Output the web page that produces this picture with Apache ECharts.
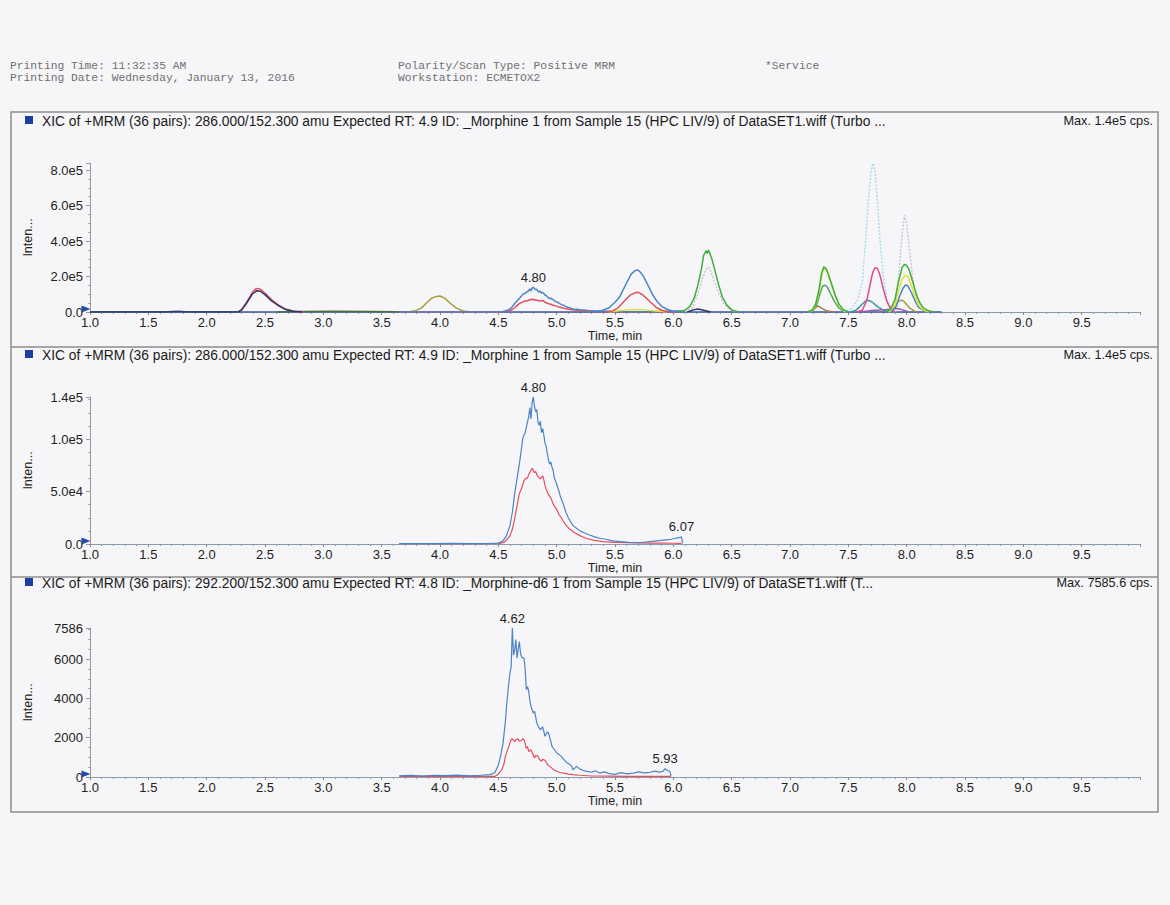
<!DOCTYPE html>
<html>
<head>
<meta charset="utf-8">
<script src="https://cdn.jsdelivr.net/npm/echarts/dist/echarts.min.js"></script>
<style>
  html, body { margin: 0; padding: 0; background: #f6f6f8; }
  #chart { width: 1170px; height: 905px; }
</style>
</head>
<body>
<div id="chart"></div>
<script>
// ---- Panel 1: all 36 MRM pairs overlaid (time in min, intensity in cps) ----
const baselineTrace = [[1.0,0],[1.65,0],[1.7,3000],[1.76,4000],[1.82,2000],[1.9,0],[8.3,0]];
const earlyGreen    = [[2.6,0],[2.8,2500],[3.1,4000],[3.4,3000],[3.6,1000],[3.75,0]];
const peakANavy  = [[1.0,0],[2.27,0],[2.3,12000],[2.34,48000],[2.39,100000],[2.43,120000],[2.46,117000],[2.5,98000],[2.55,66000],[2.61,38000],[2.67,16000],[2.74,4000],[2.82,0]];
const peakARed   = [[2.27,0],[2.3,14000],[2.34,52000],[2.39,108000],[2.42,130000],[2.44,133000],[2.47,124000],[2.51,100000],[2.56,67000],[2.62,37000],[2.68,15000],[2.76,3000],[2.84,0]];
const peakBOlive = [[3.72,0],[3.78,5000],[3.84,22000],[3.89,55000],[3.93,78000],[3.97,88000],[4.0,90000],[4.04,78000],[4.09,48000],[4.14,22000],[4.2,6000],[4.27,0]];
const peakCBlue  = [[5.3,0],[5.38,6000],[5.45,24000],[5.5,55000],[5.54,85000],[5.6,165000],[5.64,215000],[5.67,232000],[5.69,237000],[5.71,230000],[5.74,205000],[5.78,155000],[5.82,100000],[5.86,60000],[5.9,32000],[5.95,14000],[6.0,4000],[6.06,0]];
const peakCRed   = [[5.42,0],[5.48,6000],[5.53,25000],[5.58,62000],[5.63,95000],[5.67,108000],[5.7,111000],[5.73,100000],[5.77,78000],[5.81,52000],[5.85,28000],[5.9,10000],[5.96,0]];
const peakCYellow= [[5.45,0],[5.55,8000],[5.65,14000],[5.75,12000],[5.85,5000],[5.95,0]];
const peakDGreen = [[6.05,0],[6.1,10000],[6.14,30000],[6.18,80000],[6.21,150000],[6.24,240000],[6.26,320000],[6.28,345000],[6.29,330000],[6.3,350000],[6.31,335000],[6.33,300000],[6.36,225000],[6.39,150000],[6.42,85000],[6.46,38000],[6.5,12000],[6.56,0]];
const peakDLilac = [[6.1,0],[6.16,25000],[6.21,100000],[6.25,190000],[6.28,240000],[6.3,255000],[6.32,230000],[6.35,175000],[6.39,105000],[6.43,50000],[6.48,15000],[6.54,0]];
const peakDNavy  = [[6.12,0],[6.17,12000],[6.21,17000],[6.26,10000],[6.32,0]];
const peakEGreen = [[7.15,0],[7.19,12000],[7.22,45000],[7.25,130000],[7.27,215000],[7.29,255000],[7.31,245000],[7.33,210000],[7.36,150000],[7.39,90000],[7.42,42000],[7.46,12000],[7.5,0]];
const peakEYellow= [[7.16,0],[7.2,15000],[7.23,60000],[7.26,160000],[7.28,230000],[7.3,245000],[7.32,225000],[7.35,170000],[7.38,110000],[7.41,55000],[7.45,15000],[7.5,0]];
const peakEGreen2= [[7.16,0],[7.2,10000],[7.23,40000],[7.26,110000],[7.28,145000],[7.3,152000],[7.32,140000],[7.35,100000],[7.38,60000],[7.42,22000],[7.47,0]];
const peakEBrown = [[7.17,0],[7.21,20000],[7.24,35000],[7.27,22000],[7.32,5000],[7.38,0]];
const peakFCyan  = [[7.46,0],[7.53,20000],[7.58,70000],[7.62,170000],[7.65,420000],[7.68,700000],[7.7,820000],[7.715,838000],[7.73,780000],[7.75,620000],[7.77,420000],[7.8,200000],[7.83,70000],[7.87,18000],[7.91,0]];
const peakFPink  = [[7.57,0],[7.62,10000],[7.66,70000],[7.69,165000],[7.71,225000],[7.73,250000],[7.75,245000],[7.77,210000],[7.8,130000],[7.83,60000],[7.86,20000],[7.9,0]];
const peakFTeal  = [[7.52,0],[7.57,12000],[7.62,45000],[7.66,68000],[7.7,58000],[7.75,30000],[7.8,10000],[7.85,0]];
const peakFPurple= [[7.6,0],[7.7,8000],[7.8,12000],[7.9,20000],[7.95,15000],[8.02,0]];
const peakGGreen = [[7.82,0],[7.86,15000],[7.9,70000],[7.93,170000],[7.96,250000],[7.98,268000],[8.0,262000],[8.02,240000],[8.05,175000],[8.08,105000],[8.11,55000],[8.14,25000],[8.18,8000],[8.23,0]];
const peakGYellow= [[7.85,0],[7.9,40000],[7.93,120000],[7.96,185000],[7.99,208000],[8.01,200000],[8.04,150000],[8.07,90000],[8.1,40000],[8.14,12000],[8.19,0]];
const peakGBlue  = [[7.86,0],[7.91,30000],[7.94,90000],[7.97,135000],[7.99,152000],[8.01,148000],[8.04,110000],[8.07,65000],[8.1,28000],[8.15,6000],[8.2,0]];
const peakGGray  = [[7.85,0],[7.9,50000],[7.93,200000],[7.96,430000],[7.98,545000],[8.0,500000],[8.02,380000],[8.05,200000],[8.08,80000],[8.12,20000],[8.17,0]];
const peakGOlive = [[7.84,0],[7.89,25000],[7.93,60000],[7.96,68000],[7.99,50000],[8.03,20000],[8.08,0]];

// ---- Morphine 286.0/152.3 (quantifier, blue) and qualifier (red) ----
const morphineQuant = [[3.65,300],[3.8,500],[3.95,400],[4.1,600],[4.25,400],[4.4,500],[4.5,800],[4.54,3000],[4.57,8000],[4.6,17500],[4.62,30000],[4.64,48000],[4.66,62000],[4.68,76000],[4.7,92000],[4.71,101000],[4.73,106000],[4.74,111000],[4.76,121000],[4.77,130000],[4.78,119000],[4.79,135000],[4.8,140000],[4.81,131000],[4.82,126000],[4.83,128000],[4.84,116000],[4.85,113000],[4.86,117000],[4.87,106000],[4.88,110000],[4.89,104000],[4.9,96000],[4.91,93000],[4.92,86000],[4.93,80000],[4.94,76000],[4.95,78000],[4.96,73000],[4.97,70000],[4.98,63000],[5.0,57000],[5.02,50000],[5.03,46000],[5.05,40000],[5.06,37000],[5.08,30000],[5.1,25000],[5.12,21000],[5.14,17500],[5.17,15000],[5.2,12500],[5.23,11000],[5.27,9000],[5.32,7000],[5.37,5500],[5.42,4500],[5.48,3000],[5.55,2200],[5.62,1500],[5.7,1200],[5.76,1800],[5.82,2500],[5.88,3200],[5.94,4000],[5.98,4500],[6.02,5500],[6.05,6000],[6.07,6800],[6.08,500]];
const morphineQual  = [[3.65,200],[4.0,300],[4.3,200],[4.5,400],[4.55,1500],[4.58,5000],[4.6,8000],[4.62,14000],[4.64,24000],[4.66,36000],[4.68,48000],[4.7,53000],[4.71,57000],[4.72,60000],[4.73,62000],[4.75,63000],[4.76,66000],[4.78,70000],[4.79,72000],[4.8,70000],[4.81,68000],[4.82,69000],[4.83,66000],[4.84,64500],[4.86,62000],[4.87,63500],[4.88,65000],[4.89,61000],[4.9,56000],[4.91,52000],[4.93,47000],[4.95,44000],[4.97,38000],[5.0,33000],[5.02,28000],[5.04,25000],[5.06,21000],[5.08,18000],[5.1,15500],[5.12,13500],[5.15,11000],[5.2,8000],[5.25,5500],[5.32,3500],[5.4,2200],[5.5,1600],[5.6,1300],[5.7,1000],[5.8,900],[5.9,800],[6.0,700],[6.07,600]];

// ---- Morphine-d6 292.2/152.3 (quantifier, blue) and qualifier (red) ----
const d6Quant = [[3.65,60],[3.75,80],[3.85,50],[3.95,90],[4.05,70],[4.15,100],[4.25,60],[4.35,90],[4.43,120],[4.47,220],[4.5,600],[4.52,1100],[4.54,1700],[4.56,2800],[4.57,3600],[4.59,4800],[4.6,5300],[4.61,5600],[4.62,7585.6],[4.63,6200],[4.64,6450],[4.65,7000],[4.66,6050],[4.67,6500],[4.68,6900],[4.69,6300],[4.7,6100],[4.72,6050],[4.73,5500],[4.74,4450],[4.75,4600],[4.76,4380],[4.77,3900],[4.78,3600],[4.8,3250],[4.81,3350],[4.83,2750],[4.85,2500],[4.86,2400],[4.88,2550],[4.9,2070],[4.92,2300],[4.93,2240],[4.95,1800],[4.96,1560],[4.98,1400],[5.0,1220],[5.02,1150],[5.04,1050],[5.06,900],[5.09,710],[5.11,650],[5.13,540],[5.14,370],[5.16,480],[5.17,540],[5.2,400],[5.23,330],[5.26,290],[5.3,240],[5.33,320],[5.37,200],[5.41,260],[5.45,170],[5.5,130],[5.55,220],[5.6,160],[5.66,200],[5.7,260],[5.75,210],[5.8,240],[5.84,300],[5.88,250],[5.91,290],[5.93,420],[5.95,330],[5.97,290],[5.98,40]];
const d6Qual  = [[3.65,30],[4.0,40],[4.3,30],[4.47,30],[4.5,150],[4.53,370],[4.55,700],[4.56,1050],[4.58,1400],[4.59,1560],[4.6,1750],[4.61,1900],[4.62,1950],[4.63,1850],[4.64,1800],[4.65,1900],[4.67,1930],[4.68,1820],[4.7,1860],[4.71,1950],[4.72,1900],[4.73,1700],[4.74,1460],[4.75,1550],[4.76,1300],[4.78,1390],[4.79,1250],[4.81,970],[4.82,1100],[4.84,1050],[4.85,900],[4.87,800],[4.88,900],[4.9,850],[4.92,650],[4.94,540],[4.96,450],[4.98,350],[5.0,290],[5.03,230],[5.06,200],[5.1,150],[5.14,120],[5.2,90],[5.3,50],[5.45,40],[5.6,30],[5.75,30],[5.9,30],[5.98,30]];

// Retention-time labels per panel
const panel1Peaks = [4.80];
const panel2Peaks = [4.80, 6.07];
const panel3Peaks = [4.62, 5.93];

// Axis ranges and tick labels
const timeRange = [1.0, 10.0];
const panelMax = [840000, 140000, 7586];
const panelInterval = [200000, 50000, 2000];

const panelTitles = [
  'XIC of +MRM (36 pairs): 286.000/152.300 amu Expected RT: 4.9 ID: _Morphine 1 from Sample 15 (HPC LIV/9) of DataSET1.wiff (Turbo ...',
  'XIC of +MRM (36 pairs): 286.000/152.300 amu Expected RT: 4.9 ID: _Morphine 1 from Sample 15 (HPC LIV/9) of DataSET1.wiff (Turbo ...',
  'XIC of +MRM (36 pairs): 292.200/152.300 amu Expected RT: 4.8 ID: _Morphine-d6 1 from Sample 15 (HPC LIV/9) of DataSET1.wiff (T...'
];
const panelMaxText = ['Max. 1.4e5 cps.', 'Max. 1.4e5 cps.', 'Max. 7585.6 cps.'];
const headerLeft  = ['Printing Time: 11:32:35 AM', 'Printing Date: Wednesday, January 13, 2016'];
const headerMid   = ['Polarity/Scan Type: Positive MRM', 'Workstation: ECMETOX2'];
const headerRight = '*Service';

// ---- Layout ----
const SANS = '"Liberation Sans", Arial, sans-serif';
const MONO = '"Liberation Mono", "DejaVu Sans Mono", monospace';
const FS = 13;
const grids = [
  { left: 90, top: 163, width: 1050, height: 149 },
  { left: 90, top: 397, width: 1050, height: 147 },
  { left: 90, top: 628, width: 1050, height: 149 }
];
const titleY = [121, 355, 583];

function fmtY(panel, v) {
  if (panel === 2) return String(Math.round(v));
  if (v === 0) return '0.0';
  return v.toExponential(1).replace('e+', 'e');
}

function xAxisFor(i) {
  return {
    type: 'value', gridIndex: i, min: timeRange[0], max: timeRange[1], interval: 0.5,
    name: 'Time, min', nameLocation: 'middle', nameGap: 14,
    nameTextStyle: { color: '#222', fontSize: 12.5, fontFamily: SANS },
    axisLine: { onZero: false, lineStyle: { color: '#8b9bb6', width: 1 } },
    axisTick: { show: true, length: 3, lineStyle: { color: '#888' } },
    minorTick: { show: true, splitNumber: 5, length: 2, lineStyle: { color: '#999' } },
    splitLine: { show: false },
    axisLabel: { color: '#222', fontSize: FS, fontFamily: SANS, margin: 4, showMaxLabel: false,
                 formatter: v => v.toFixed(1) }
  };
}
function yAxisFor(i) {
  return {
    type: 'value', gridIndex: i, min: 0, max: panelMax[i], interval: panelInterval[i],
    name: 'Inten...', nameLocation: 'middle', nameGap: 56, nameRotate: 90,
    nameTextStyle: { color: '#222', fontSize: 12.5, fontFamily: SANS },
    axisLine: { show: true, lineStyle: { color: '#999', width: 1 } },
    axisTick: { show: true, length: 4, lineStyle: { color: '#999' } },
    minorTick: { show: true, splitNumber: 4, length: 2, lineStyle: { color: '#aaa' } },
    splitLine: { show: false },
    axisLabel: { color: '#222', fontSize: FS, fontFamily: SANS, margin: 7, padding: [0, 0, 5, 0],
                 showMaxLabel: i !== 0, formatter: v => fmtY(i, v) }
  };
}

// Attach a retention-time label to the apex points listed in `peaks`
function withPeakLabels(data, peaks) {
  return data.map(p => peaks.some(t => Math.abs(t - p[0]) < 1e-9)
    ? { value: p, label: { show: true, position: 'top', distance: 3, color: '#222',
        fontSize: FS, fontFamily: SANS, formatter: q => q.value[0].toFixed(2) } }
    : p);
}

function trace(data, color, gi, width, dotted, z) {
  return {
    type: 'line', data, xAxisIndex: gi, yAxisIndex: gi,
    showSymbol: true, showAllSymbol: true, symbol: 'circle', symbolSize: 1,
    lineStyle: { color, width, type: dotted ? [2, 1.5] : 'solid' },
    itemStyle: { color: 'rgba(0,0,0,0)' }, silent: true, animation: false, z: z || 2
  };
}

function originMarker(s) {
  s.markPoint = {
    silent: true, animation: false,
    symbol: 'triangle', symbolSize: [7, 9], symbolRotate: -90, symbolOffset: [-4, -3],
    itemStyle: { color: '#1f4cb0' }, label: { show: false },
    data: [{ coord: [timeRange[0], 0] }]
  };
  return s;
}

const C = {
  blue: '#4b83c6', red: '#e2505e', navy: '#2d3568', olive: '#a59d3e', yellow: '#e6e03c',
  green: '#3fae3a', lilac: '#c9c5dd', cyan: '#a9dbea', pink: '#e04b8d', teal: '#3b9aa8',
  brown: '#a37b52', purple: '#9b5cb2', darkGreen: '#45703e', base: '#3b5a9a', green2: '#52a85a'
};

const W1 = 1.5, W2 = 1.2;
const series = [
  originMarker(trace(baselineTrace, C.base, 0, W1)),
  trace(earlyGreen, C.darkGreen, 0, W1),
  trace(peakARed, C.red, 0, W1),
  trace(peakANavy, C.navy, 0, W1, false, 3),
  trace(peakBOlive, C.olive, 0, W1),
  trace(morphineQual, C.red, 0, W1),
  trace(withPeakLabels(morphineQuant, panel1Peaks), C.blue, 0, W1),
  trace(peakCYellow, C.yellow, 0, W1),
  trace(peakCRed, C.red, 0, W1),
  trace(peakCBlue, C.blue, 0, W1),
  trace(peakDNavy, C.navy, 0, W1),
  trace(peakDLilac, C.lilac, 0, W1, true),
  trace(peakDGreen, C.green, 0, W1, false, 3),
  trace(peakEBrown, C.brown, 0, W1),
  trace(peakEGreen2, C.green2, 0, W1),
  trace(peakEYellow, C.yellow, 0, W1),
  trace(peakEGreen, C.green, 0, W1, false, 3),
  trace(peakFCyan, C.cyan, 0, W1, true),
  trace(peakFTeal, C.teal, 0, W1),
  trace(peakFPurple, C.purple, 0, W1),
  trace(peakFPink, C.pink, 0, W1),
  trace(peakGGray, C.lilac, 0, W1, true),
  trace(peakGOlive, C.olive, 0, W1),
  trace(peakGBlue, C.blue, 0, W1),
  trace(peakGYellow, C.yellow, 0, W1),
  trace(peakGGreen, C.green, 0, W1, false, 3),

  originMarker(trace(morphineQual, C.red, 1, W2)),
  trace(withPeakLabels(morphineQuant, panel2Peaks), C.blue, 1, W2),

  originMarker(trace(d6Qual, C.red, 2, W2)),
  trace(withPeakLabels(d6Quant, panel3Peaks), C.blue, 2, W2)
];

// ---- Page furniture: header, frame, panel title rows ----
const graphic = [];
const headFont = '11.3px ' + MONO;
headerLeft.forEach((t, k) => graphic.push({ type: 'text', style: { x: 10, y: 66 + 12 * k, text: t, fill: '#707070', font: headFont, verticalAlign: 'middle' } }));
headerMid.forEach((t, k) => graphic.push({ type: 'text', style: { x: 398, y: 66 + 12 * k, text: t, fill: '#707070', font: headFont, verticalAlign: 'middle' } }));
graphic.push({ type: 'text', style: { x: 765, y: 66, text: headerRight, fill: '#707070', font: headFont, verticalAlign: 'middle' } });

graphic.push({ type: 'rect', shape: { x: 11, y: 112, width: 1147, height: 700 }, style: { fill: 'none', stroke: '#8d8d8d', lineWidth: 1.5 }, z: 10 });
[347, 577].forEach(y => graphic.push({ type: 'line', shape: { x1: 11, y1: y, x2: 1158, y2: y }, style: { stroke: '#8d8d8d', lineWidth: 1.5 }, z: 10 }));

titleY.forEach((y, i) => {
  graphic.push({ type: 'rect', shape: { x: 25, y: y - 5, width: 8, height: 8 }, style: { fill: '#1c3fa3' }, z: 10 });
  graphic.push({ type: 'text', style: { x: 42, y, text: panelTitles[i], fill: '#1a1a1a', font: '13.8px ' + SANS, verticalAlign: 'middle' }, z: 10 });
  graphic.push({ type: 'text', style: { x: 1153, y, text: panelMaxText[i], fill: '#1a1a1a', font: '12.7px ' + SANS, align: 'right', verticalAlign: 'middle' }, z: 10 });
});

const chart = echarts.init(document.getElementById('chart'), null, { renderer: 'svg', width: 1170, height: 905 });
chart.setOption({
  backgroundColor: '#f6f6f8',
  animation: false,
  grid: grids,
  xAxis: [0, 1, 2].map(xAxisFor),
  yAxis: [0, 1, 2].map(yAxisFor),
  series,
  graphic
});
</script>
</body>
</html>
